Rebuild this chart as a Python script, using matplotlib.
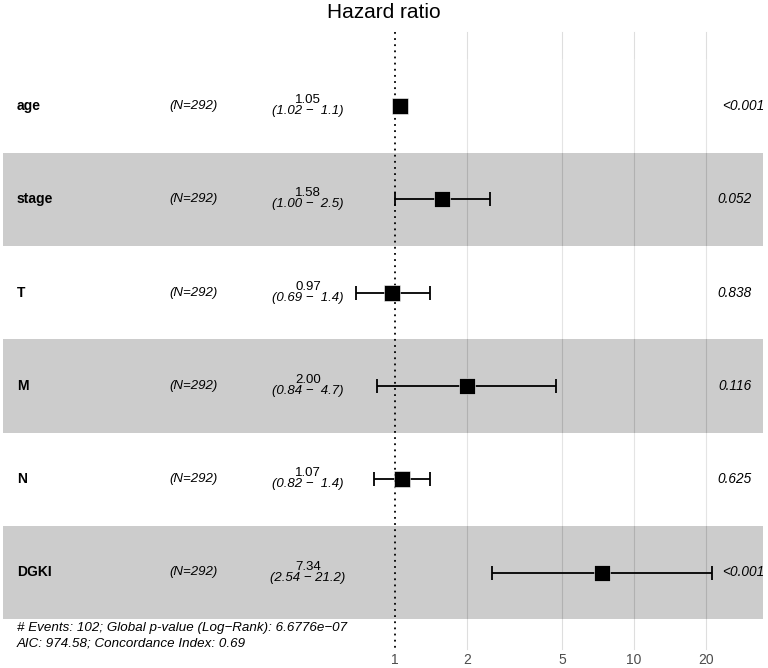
import numpy as np
import matplotlib
matplotlib.use("Agg")
import matplotlib.pyplot as plt
from matplotlib.transforms import blended_transform_factory

plt.rcParams['font.family'] = ['Liberation Sans', 'DejaVu Sans']

variables = ["age", "stage", "T", "M", "N", "DGKI"]
n_labels = ["(N=292)"] * 6
hr = [1.05, 1.58, 0.97, 2.00, 1.07, 7.34]
ci_low = [1.02, 1.00, 0.69, 0.84, 0.82, 2.54]
ci_high = [1.1, 2.5, 1.4, 4.7, 1.4, 21.2]
hr_text = ["1.05", "1.58", "0.97", "2.00", "1.07", "7.34"]
ci_text = ["(1.02 \u2212  1.1)", "(1.00 \u2212  2.5)", "(0.69 \u2212  1.4)",
           "(0.84 \u2212  4.7)", "(0.82 \u2212  1.4)", "(2.54 \u2212 21.2)"]
p_text = ["<0.001", "0.052", "0.838", "0.116", "0.625", "<0.001"]
x_ticks = [1, 2, 5, 10, 20]
footer = ["# Events: 102; Global p-value (Log\u2212Rank): 6.6776e\u221207",
          "AIC: 974.58; Concordance Index: 0.69"]

W, H = 768, 668
fig = plt.figure(figsize=(W / 100, H / 100), dpi=100)
ax = fig.add_axes([0, 0, 1, 1])
ax.set_xscale("log")
x1pix, dec = 395.0, 239.0
ax.set_xlim(10 ** (-x1pix / dec), 10 ** ((W - x1pix) / dec))
row_h, y0 = 93.3, 106.0
def py(p):
    return (p - y0) / row_h
ax.set_ylim(py(H), py(0))
ax.axis("off")

rows = np.arange(len(variables))
top, bot = py(32), py(649)

# gridlines
for t in x_ticks[1:]:
    ax.plot([t, t], [top, bot], color="#DEDEDE", lw=0.8, zorder=1)
# bands
for i in rows:
    fc = "black" if i % 2 == 1 else "white"
    ax.axhspan(i - 0.5, i + 0.5, xmin=3 / W, xmax=763 / W, facecolor=fc,
               alpha=0.2, lw=0, zorder=2)
# reference line
ax.plot([1, 1], [top, bot], color="black", lw=1.3, ls=(0, (1, 2.4)), zorder=3)

# error bars and points
hr_a = np.array(hr)
err = np.vstack([hr_a - np.array(ci_low), np.array(ci_high) - hr_a])
ax.errorbar(hr, rows, xerr=err, fmt="none", ecolor="black", elinewidth=1.3,
            capsize=5, capthick=1.3, zorder=4)
ax.plot(hr, rows, "s", color="black", markersize=11.5, markeredgecolor="white",
        markeredgewidth=0.4, zorder=5)

tr = blended_transform_factory(ax.transAxes, ax.transData)
for i in rows:
    ax.text(17 / W, i, variables[i], transform=tr, ha="left", va="center",
            fontsize=10, fontweight="bold")
    ax.text(194 / W, i, n_labels[i], transform=tr, ha="center", va="center",
            fontsize=9.5, style="italic")
    ax.text(308 / W, i - 6 / row_h, hr_text[i], transform=tr, ha="center",
            va="center", fontsize=9.5)
    ax.text(308 / W, i + 5 / row_h, ci_text[i], transform=tr, ha="center",
            va="center", fontsize=9.5, style="italic")
    px = 764 if p_text[i].startswith("<") else 752
    ax.text(px / W, i, p_text[i], transform=tr, ha="right", va="center",
            fontsize=9.8, style="italic")

ax.text(17 / W, py(628), footer[0], transform=tr, ha="left", va="center",
        fontsize=9.6, style="italic")
ax.text(17 / W, py(643), footer[1], transform=tr, ha="left", va="center",
        fontsize=9.6, style="italic")

for t in x_ticks:
    ax.text(t, py(660), str(t), ha="center", va="center", fontsize=10,
            color="#4D4D4D")

fig.text(0.5, 1 - 13 / H, "Hazard ratio", ha="center", va="center", fontsize=15)

fig.savefig("out.png", dpi=100, facecolor="white")
